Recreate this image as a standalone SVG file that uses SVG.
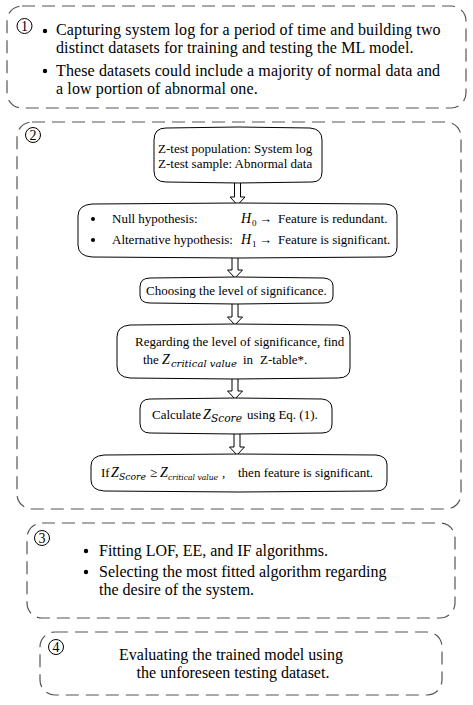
<svg xmlns="http://www.w3.org/2000/svg" width="473" height="705" viewBox="0 0 473 705">
<style>
.frame{fill:none;stroke:#555;stroke-width:1.2;stroke-dasharray:13 7}
.node{fill:#fff;stroke:#000;stroke-width:1}
.num{fill:none;stroke:#000;stroke-width:1}
.t16{font-family:"Liberation Serif","Times New Roman",serif;font-size:16px;fill:#000}
.t163{font-family:"Liberation Serif","Times New Roman",serif;font-size:16px;letter-spacing:0.12px;fill:#000}
.t13{font-family:"Liberation Serif","Times New Roman",serif;font-size:13px;fill:#000}
.n14{font-family:"Liberation Serif","Times New Roman",serif;font-size:14px;fill:#000;text-anchor:middle}
.mi{font-family:"Liberation Serif","Times New Roman",serif;font-style:italic;font-size:14px;fill:#000}
.ms{font-family:"DejaVu Serif",serif;font-style:italic;fill:#000}
.arrow{fill:#fff;stroke:#000;stroke-width:1}
.dot{fill:#000}
</style>
<rect width="473" height="705" fill="#fff"/>

<g id="step1">
<rect class="frame" x="7" y="6" width="459" height="102" rx="15"/>
<circle class="num" cx="24.5" cy="26" r="7.5"/>
<text class="n14" x="24.5" y="31">1</text>
<circle class="dot" cx="45" cy="31" r="2.2"/>
<circle class="dot" cx="45" cy="71" r="2.2"/>
<text class="t163" x="56" y="35">Capturing system log for a period of time and building two</text>
<text class="t163" x="56" y="53">distinct datasets for training and testing the ML model.</text>
<text class="t163" x="56" y="76">These datasets could include a majority of normal data and</text>
<text class="t163" x="56" y="94">a low portion of abnormal one.</text>
</g>

<g id="step2">
<rect class="frame" x="17" y="122" width="444" height="387" rx="15"/>
<circle class="num" cx="33" cy="135" r="7.5"/>
<text class="n14" x="33" y="140">2</text>
</g>

<g id="connectors">
<path class="arrow" d="M234.5,182 V197 H230 L237.5,205 L245,197 H240.5 V182"/>
<path class="arrow" d="M232,257 V270 H227.5 L235,278 L242.5,270 H238 V257"/>
<path class="arrow" d="M232,303 V317 H227.5 L235,325 L242.5,317 H238 V303"/>
<path class="arrow" d="M232,378 V391 H227.5 L235,399 L242.5,391 H238 V378"/>
<path class="arrow" d="M234,433 V447 H229.5 L237,455 L244.5,447 H240 V433"/>
</g>

<g id="ztest">
<path class="node" d="M166,128 Q238,126 310,128 Q322,129 322,140 V172 Q322,182 312,182 Q238,184 166,182 Q154,182 154,171 V140 Q154,128 166,128 Z"/>
<text class="t13" x="158" y="153">Z-test population: System log</text>
<text class="t13" x="158" y="168">Z-test sample: Abnormal data</text>
</g>

<g id="hypothesis">
<path class="node" d="M92,204 Q238,202 386,204 Q397,205 397,215 V247 Q397,257 386,257 Q238,259 92,257 Q78,256 78,245 V216 Q78,205 92,204 Z"/>
<circle class="dot" cx="93" cy="219" r="2"/>
<circle class="dot" cx="93" cy="240" r="2"/>
<text class="t13" x="112" y="223">Null hypothesis:</text>
<text class="mi" x="241" y="223">H</text>
<text class="t13" x="252" y="226" style="font-size:9px">0</text>
<text class="t13" x="259" y="223">→</text>
<text class="t13" x="278" y="223">Feature is redundant.</text>
<text class="t13" x="112" y="244">Alternative hypothesis:</text>
<text class="mi" x="241" y="244">H</text>
<text class="t13" x="252" y="247" style="font-size:9px">1</text>
<text class="t13" x="259" y="244">→</text>
<text class="t13" x="278" y="244">Feature is significant.</text>
</g>

<g id="choose">
<path class="node" d="M150,278 Q236,276 324,278 Q333,279 333,286 V296 Q333,303 324,303 Q236,305 150,303 Q140,303 140,295 V287 Q140,278 150,278 Z"/>
<text class="t13" x="146" y="295">Choosing the level of significance.</text>
</g>

<g id="findz">
<path class="node" d="M130,325 Q234,323 338,325 Q350,326 350,336 V368 Q350,378 338,378 Q234,380 130,378 Q117,377 117,366 V337 Q117,326 130,325 Z"/>
<text class="t13" x="135" y="346">Regarding the level of significance, find</text>
<text class="t13" x="143" y="364">the</text>
<text class="mi" x="162" y="364">Z</text>
<text class="ms" x="171" y="367" style="font-size:10px" textLength="66" lengthAdjust="spacingAndGlyphs">critical value</text>
<text class="t13" x="243" y="364">in</text>
<text class="t13" x="260" y="364">Z-table*.</text>
</g>

<g id="calc">
<path class="node" d="M150,399 Q236,397 322,399 Q332,400 332,409 V424 Q332,433 322,433 Q236,435 150,433 Q140,433 140,423 V409 Q140,399 150,399 Z"/>
<text class="t13" x="152" y="419">Calculate</text>
<text class="mi" x="203" y="419">Z</text>
<text class="ms" x="211" y="422" style="font-size:10.5px" textLength="31" lengthAdjust="spacingAndGlyphs">Score</text>
<text class="t13" x="247" y="419">using Eq. (1).</text>
</g>

<g id="decide">
<path class="node" d="M104,455 Q238,453 376,455 Q387,456 387,465 V481 Q387,491 376,491 Q238,493 104,491 Q91,490 91,480 V466 Q91,456 104,455 Z"/>
<text class="t13" x="101" y="477">If</text>
<text class="mi" x="111" y="477">Z</text>
<text class="ms" x="119" y="480" style="font-size:9.5px" textLength="27" lengthAdjust="spacingAndGlyphs">Score</text>
<text class="t13" x="150" y="477">≥</text>
<text class="mi" x="160" y="477">Z</text>
<text class="ms" x="168" y="480" style="font-size:7.6px">critical value</text>
<text class="t13" x="222" y="477">,</text>
<text class="t13" x="238" y="477">then feature is significant.</text>
</g>

<g id="step3">
<rect class="frame" x="27" y="523" width="428" height="95" rx="15"/>
<circle class="num" cx="42" cy="538" r="7.5"/>
<text class="n14" x="42" y="543">3</text>
<circle class="dot" cx="86" cy="551" r="2.2"/>
<circle class="dot" cx="86" cy="572" r="2.2"/>
<text class="t16" x="99" y="556">Fitting LOF, EE, and IF algorithms.</text>
<text class="t16" x="99" y="577">Selecting the most fitted algorithm regarding</text>
<text class="t16" x="99" y="595">the desire of the system.</text>
</g>

<g id="step4">
<rect class="frame" x="40" y="632" width="402" height="63" rx="15"/>
<circle class="num" cx="56" cy="647" r="7.5"/>
<text class="n14" x="56" y="652">4</text>
<text class="t16" x="231" y="660" text-anchor="middle">Evaluating the trained model using</text>
<text class="t16" x="233" y="678" text-anchor="middle">the unforeseen testing dataset.</text>
</g>
</svg>
